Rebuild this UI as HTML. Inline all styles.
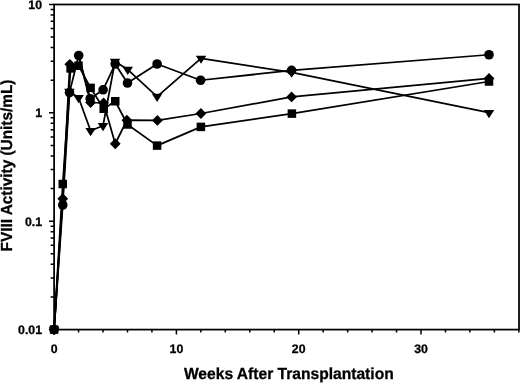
<!DOCTYPE html>
<html><head><meta charset="utf-8"><title>FVIII Activity</title>
<style>html,body{margin:0;padding:0;background:#fff}body{width:520px;height:384px;overflow:hidden}</style></head>
<body>
<svg width="520" height="384" viewBox="0 0 520 384" style="display:block;will-change:transform;opacity:0.999">
<rect x="0" y="0" width="520" height="384" fill="#fff"/>
<rect x="54.1" y="4.49" width="464.90" height="325.11" fill="none" stroke="#000" stroke-width="1.75"/>
<path d="M49.00 329.60H54.1 M50.60 296.98H54.1 M50.60 277.89H54.1 M50.60 264.35H54.1 M50.60 253.85H54.1 M50.60 245.27H54.1 M50.60 238.02H54.1 M50.60 231.73H54.1 M50.60 226.19H54.1 M49.00 221.23H54.1 M50.60 188.61H54.1 M50.60 169.52H54.1 M50.60 155.98H54.1 M50.60 145.48H54.1 M50.60 136.90H54.1 M50.60 129.65H54.1 M50.60 123.36H54.1 M50.60 117.82H54.1 M49.00 112.86H54.1 M50.60 80.24H54.1 M50.60 61.15H54.1 M50.60 47.61H54.1 M50.60 37.11H54.1 M50.60 28.53H54.1 M50.60 21.28H54.1 M50.60 14.99H54.1 M50.60 9.45H54.1 M49.00 4.49H54.1 M49.00 4.49H54.1" stroke="#000" stroke-width="1.5" fill="none"/>
<path d="M54.10 329.6V334.40 M78.56 329.6V332.40 M103.02 329.6V332.40 M127.48 329.6V332.40 M151.94 329.6V332.40 M176.40 329.6V334.40 M200.86 329.6V332.40 M225.32 329.6V332.40 M249.78 329.6V332.40 M274.24 329.6V332.40 M298.70 329.6V334.40 M323.16 329.6V332.40 M347.62 329.6V332.40 M372.08 329.6V332.40 M396.54 329.6V332.40 M421.00 329.6V334.40 M445.46 329.6V332.40 M469.92 329.6V332.40 M494.38 329.6V332.40 M518.84 329.6V332.40" stroke="#000" stroke-width="1.5" fill="none"/>
<polyline points="54.10,329.60 62.75,205.00 69.50,92.60 78.70,55.50 90.20,98.75 103.10,89.80 115.20,64.00 127.50,83.00 157.10,64.00 200.60,80.25 291.60,70.40 489.00,54.75" fill="none" stroke="#000" stroke-width="1.75" stroke-linejoin="round"/>
<polyline points="54.10,329.60 62.75,184.00 70.60,68.40 78.50,65.70 90.60,87.90 103.70,108.75 115.25,101.25 127.50,124.50 157.10,145.60 200.90,126.90 291.90,113.60 489.00,81.50" fill="none" stroke="#000" stroke-width="1.75" stroke-linejoin="round"/>
<polyline points="54.10,329.60 69.40,91.50 78.60,97.70 90.60,130.70 103.00,125.80 115.00,61.50 127.75,69.60 157.10,96.60 201.00,58.40 291.60,72.40 489.00,112.70" fill="none" stroke="#000" stroke-width="1.75" stroke-linejoin="round"/>
<polyline points="54.10,329.60 62.75,198.75 69.80,64.30 78.50,65.60" fill="none" stroke="#000" stroke-width="1.75" stroke-linejoin="round"/>
<polyline points="78.70,56.30 90.60,102.50 103.60,103.00 115.25,143.75 126.90,120.20 157.40,120.40 200.90,113.50 291.60,96.90 489.00,78.40" fill="none" stroke="#000" stroke-width="1.75" stroke-linejoin="round"/>
<circle cx="54.10" cy="329.60" r="4.8"/>
<circle cx="62.75" cy="205.00" r="4.8"/>
<circle cx="69.50" cy="92.60" r="4.8"/>
<circle cx="78.70" cy="55.50" r="4.8"/>
<circle cx="90.20" cy="98.75" r="4.8"/>
<circle cx="103.10" cy="89.80" r="4.8"/>
<circle cx="115.20" cy="64.00" r="4.8"/>
<circle cx="127.50" cy="83.00" r="4.8"/>
<circle cx="157.10" cy="64.00" r="4.8"/>
<circle cx="200.60" cy="80.25" r="4.8"/>
<circle cx="291.60" cy="70.40" r="4.8"/>
<circle cx="489.00" cy="54.75" r="4.8"/>
<path d="M54.10 324.20L59.50 329.60L54.10 335.00L48.70 329.60Z"/>
<path d="M62.75 193.35L68.15 198.75L62.75 204.15L57.35 198.75Z"/>
<path d="M69.80 58.90L75.20 64.30L69.80 69.70L64.40 64.30Z"/>
<path d="M90.60 97.10L96.00 102.50L90.60 107.90L85.20 102.50Z"/>
<path d="M103.60 97.60L109.00 103.00L103.60 108.40L98.20 103.00Z"/>
<path d="M115.25 138.35L120.65 143.75L115.25 149.15L109.85 143.75Z"/>
<path d="M126.90 114.80L132.30 120.20L126.90 125.60L121.50 120.20Z"/>
<path d="M157.40 115.00L162.80 120.40L157.40 125.80L152.00 120.40Z"/>
<path d="M200.90 108.10L206.30 113.50L200.90 118.90L195.50 113.50Z"/>
<path d="M291.60 91.50L297.00 96.90L291.60 102.30L286.20 96.90Z"/>
<path d="M489.00 73.00L494.40 78.40L489.00 83.80L483.60 78.40Z"/>
<rect x="49.85" y="325.35" width="8.5" height="8.5"/>
<rect x="58.50" y="179.75" width="8.5" height="8.5"/>
<rect x="66.35" y="64.15" width="8.5" height="8.5"/>
<rect x="74.25" y="61.45" width="8.5" height="8.5"/>
<rect x="86.35" y="83.65" width="8.5" height="8.5"/>
<rect x="99.45" y="104.50" width="8.5" height="8.5"/>
<rect x="111.00" y="97.00" width="8.5" height="8.5"/>
<rect x="123.25" y="120.25" width="8.5" height="8.5"/>
<rect x="152.85" y="141.35" width="8.5" height="8.5"/>
<rect x="196.65" y="122.65" width="8.5" height="8.5"/>
<rect x="287.65" y="109.35" width="8.5" height="8.5"/>
<rect x="484.75" y="77.25" width="8.5" height="8.5"/>
<path d="M48.85 326.87H59.35L54.10 335.07Z"/>
<path d="M64.15 88.77H74.65L69.40 96.97Z"/>
<path d="M73.35 94.97H83.85L78.60 103.17Z"/>
<path d="M85.35 127.97H95.85L90.60 136.17Z"/>
<path d="M97.75 123.07H108.25L103.00 131.27Z"/>
<path d="M109.75 58.77H120.25L115.00 66.97Z"/>
<path d="M122.50 66.87H133.00L127.75 75.07Z"/>
<path d="M151.85 93.87H162.35L157.10 102.07Z"/>
<path d="M195.75 55.67H206.25L201.00 63.87Z"/>
<path d="M286.35 69.67H296.85L291.60 77.87Z"/>
<path d="M483.75 109.97H494.25L489.00 118.17Z"/>
<text x="42" y="9.09" text-anchor="end" font-size="12.3" font-family="Liberation Sans, Arial, Helvetica, sans-serif" font-weight="bold" style="text-rendering:geometricPrecision" stroke="#000" stroke-width="0.3">10</text>
<text x="42" y="117.46" text-anchor="end" font-size="12.3" font-family="Liberation Sans, Arial, Helvetica, sans-serif" font-weight="bold" style="text-rendering:geometricPrecision" stroke="#000" stroke-width="0.3">1</text>
<text x="42" y="225.83" text-anchor="end" font-size="12.3" font-family="Liberation Sans, Arial, Helvetica, sans-serif" font-weight="bold" style="text-rendering:geometricPrecision" stroke="#000" stroke-width="0.3">0.1</text>
<text x="42" y="334.20" text-anchor="end" font-size="12.3" font-family="Liberation Sans, Arial, Helvetica, sans-serif" font-weight="bold" style="text-rendering:geometricPrecision" stroke="#000" stroke-width="0.3">0.01</text>
<text x="54.10" y="352.6" text-anchor="middle" font-size="12.3" font-family="Liberation Sans, Arial, Helvetica, sans-serif" font-weight="bold" style="text-rendering:geometricPrecision" stroke="#000" stroke-width="0.3">0</text>
<text x="176.40" y="352.6" text-anchor="middle" font-size="12.3" font-family="Liberation Sans, Arial, Helvetica, sans-serif" font-weight="bold" style="text-rendering:geometricPrecision" stroke="#000" stroke-width="0.3">10</text>
<text x="298.70" y="352.6" text-anchor="middle" font-size="12.3" font-family="Liberation Sans, Arial, Helvetica, sans-serif" font-weight="bold" style="text-rendering:geometricPrecision" stroke="#000" stroke-width="0.3">20</text>
<text x="421.00" y="352.6" text-anchor="middle" font-size="12.3" font-family="Liberation Sans, Arial, Helvetica, sans-serif" font-weight="bold" style="text-rendering:geometricPrecision" stroke="#000" stroke-width="0.3">30</text>
<text transform="translate(288.8,378.9) scale(0.975,1)" text-anchor="middle" font-size="16" font-family="Liberation Sans, Arial, Helvetica, sans-serif" font-weight="bold" style="text-rendering:geometricPrecision" stroke="#000" stroke-width="0.3">Weeks After Transplantation</text>
<text transform="translate(12.2,165.5) rotate(-90) scale(0.96,1)" text-anchor="middle" font-size="16" font-family="Liberation Sans, Arial, Helvetica, sans-serif" font-weight="bold" style="text-rendering:geometricPrecision" stroke="#000" stroke-width="0.3">FVIII Activity (Units/mL)</text>
</svg>
</body></html>
